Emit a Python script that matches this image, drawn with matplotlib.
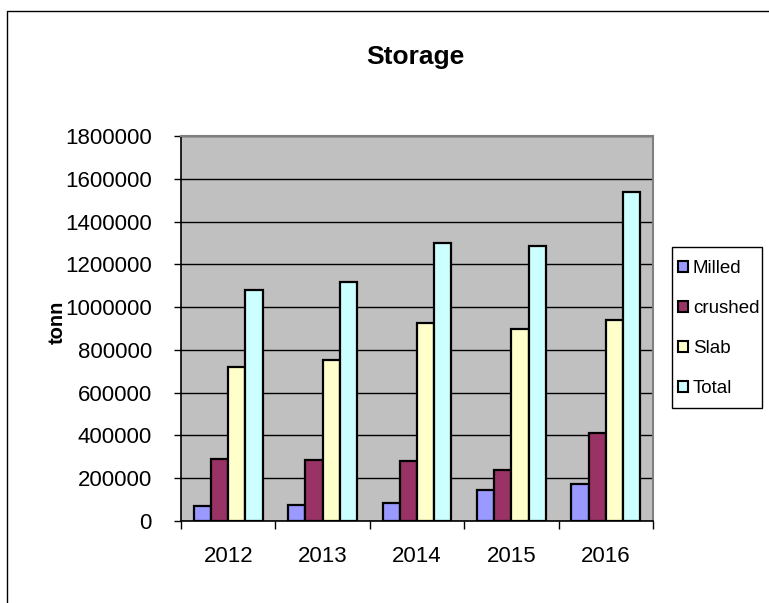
import matplotlib
matplotlib.use("Agg")
import matplotlib.pyplot as plt
from matplotlib.lines import Line2D
from matplotlib.patches import Rectangle
import numpy as np

plt.rcParams['font.family'] = ['Liberation Sans', 'DejaVu Sans']

years = ["2012", "2013", "2014", "2015", "2016"]
series_names = ["Milled", "crushed", "Slab", "Total"]
milled = [70000, 73000, 86000, 143000, 172000]
crushed = [288000, 285000, 279000, 238000, 413000]
slab = [720000, 753000, 927000, 900000, 942000]
total = [1081000, 1116000, 1298000, 1288000, 1536000]
colors = ["#9999FF", "#993366", "#FFFFCC", "#CCFFFF"]
yticks = [0, 200000, 400000, 600000, 800000, 1000000, 1200000, 1400000, 1600000, 1800000]

W, H = 769, 603
fig = plt.figure(figsize=(W / 100, H / 100), dpi=100)
fig.patch.set_facecolor("white")

ax = fig.add_axes([181 / W, 1 - 521 / H, (653 - 181) / W, (521 - 136) / H])
ax.set_facecolor("#C0C0C0")

x = np.arange(len(years))
bw = 1 / 5.5
data = [milled, crushed, slab, total]
handles = []
for i, (vals, c, name) in enumerate(zip(data, colors, series_names)):
    off = (i - 1.5) * bw
    b = ax.bar(x + off, vals, width=bw, color=c, edgecolor="black", linewidth=1.6,
               label=name, zorder=3)
    handles.append(b)

ax.set_xlim(-0.5, len(years) - 0.5)
ax.set_ylim(0, 1800000)
ax.set_yticks(yticks)
ax.set_yticklabels([str(v) for v in yticks], fontsize=16)
ax.yaxis.grid(True, color="black", linewidth=1.0, zorder=1)
ax.set_axisbelow(True)
ax.tick_params(axis='y', direction='out', length=5, width=1, pad=16, colors='black')

ax.set_xticks(x)
ax.set_xticklabels(years, fontsize=16)
ax.tick_params(axis='x', which='major', length=0, pad=18)
ax.set_xticks(np.arange(-0.5, len(years)), minor=True)
ax.tick_params(axis='x', which='minor', direction='out', length=6, width=1, color='black')

for s in ['top', 'right']:
    ax.spines[s].set_color('#808080')
    ax.spines[s].set_linewidth(1.5)
for s in ['left', 'bottom']:
    ax.spines[s].set_color('black')
    ax.spines[s].set_linewidth(1.2)

fig.text(415 / W, 1 - 57 / H, "Storage", ha='center', va='center', fontsize=19,
         fontweight='bold')
fig.text(57 / W, 1 - 322 / H, "tonn", ha='center', va='center', rotation=90,
         fontsize=14.5, fontweight='bold')

# legend frame
fig.add_artist(Rectangle((672 / W, 1 - 408 / H), 90 / W, 161 / H,
                         transform=fig.transFigure, facecolor='white',
                         edgecolor='black', linewidth=1.0, zorder=2))
leg = fig.legend(handles=handles, labels=series_names, loc='upper left',
                 bbox_to_anchor=(678 / W, 1 - 260 / H), borderaxespad=0,
                 fontsize=13.5, frameon=False,
                 handlelength=0.53, handleheight=0.53, handletextpad=0.27,
                 labelspacing=1.23, borderpad=0)
leg.set_zorder(3)
for h in leg.legend_handles:
    h.set_linewidth(1.5)

fig.add_artist(Line2D([7 / W, 7 / W, 1.0], [0.0, 1 - 11 / H, 1 - 11 / H],
                      transform=fig.transFigure, color='black', linewidth=1.0))

fig.savefig("out.png", dpi=100)
